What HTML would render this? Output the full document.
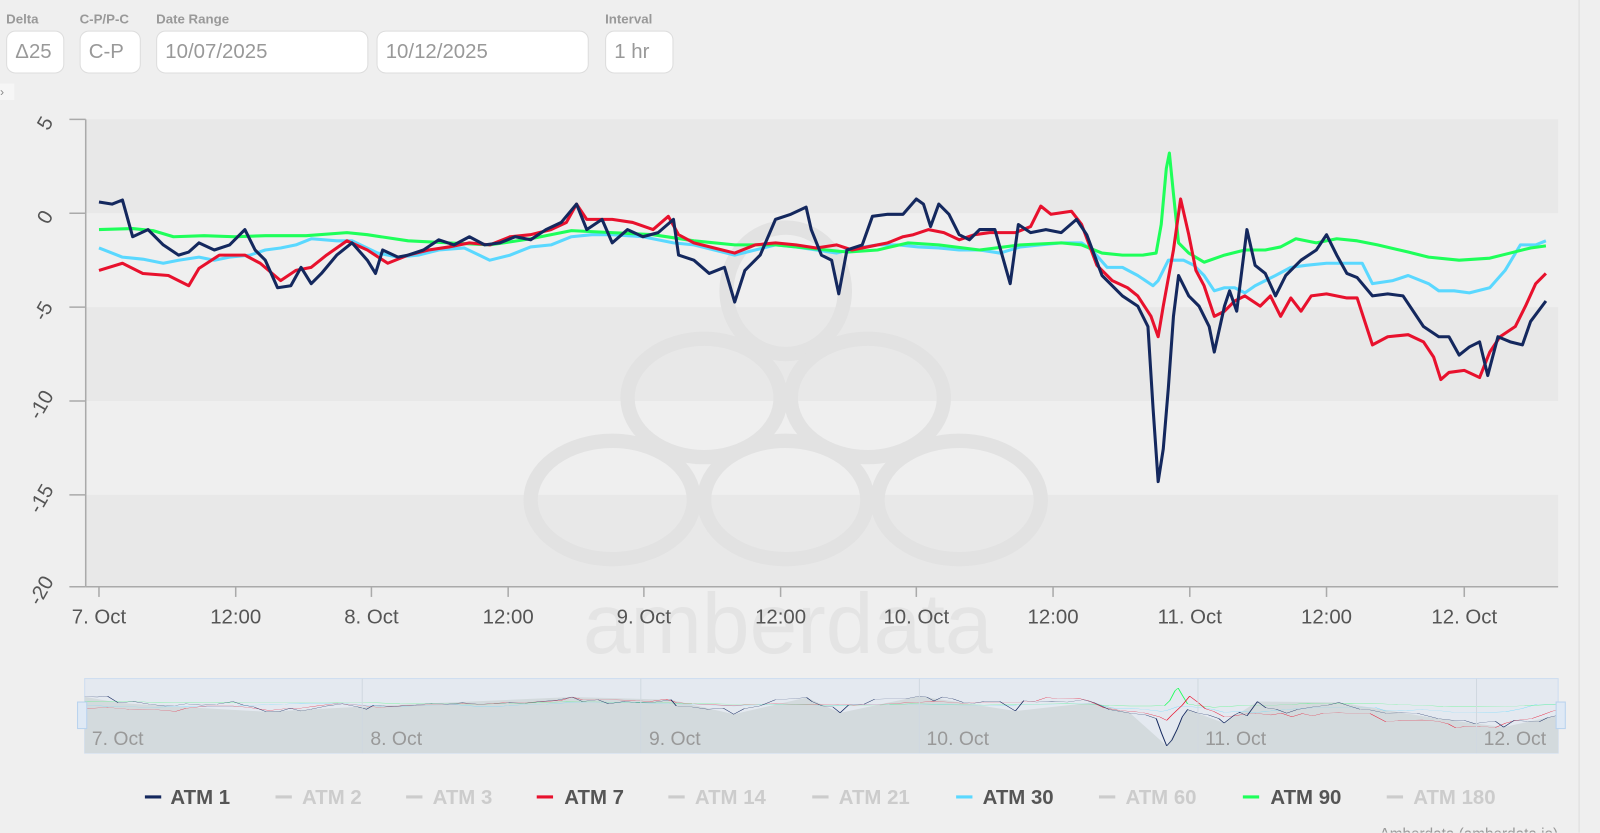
<!DOCTYPE html>
<html><head><meta charset="utf-8"><style>
body{margin:0;width:1600px;height:833px;background:#efefef;font-family:"Liberation Sans",sans-serif;overflow:hidden;position:relative}
#wrap{position:absolute;left:0;top:0;width:1568px;height:816px;transform:scale(1.0204);transform-origin:0 0}
.lbl{position:absolute;top:11px;font-size:13px;font-weight:bold;color:#999}
.box{position:absolute;top:30px;height:42px;border:1.5px solid #ddd;border-radius:9px;background:#fff;box-sizing:border-box;color:#999;font-size:20px;line-height:40px;padding-left:8px}
.nav polyline{vector-effect:non-scaling-stroke;stroke-width:1.5px}
</style></head><body><div id="wrap">
<div class="lbl" style="left:6px">Delta</div>
<div class="lbl" style="left:78px">C-P/P-C</div>
<div class="lbl" style="left:153px">Date Range</div>
<div class="lbl" style="left:593px">Interval</div>
<div class="box" style="left:6px;width:57px">Δ25</div>
<div class="box" style="left:78px;width:60px">C-P</div>
<div class="box" style="left:153px;width:208px">10/07/2025</div>
<div class="box" style="left:369px;width:208px">10/12/2025</div>
<div class="box" style="left:593px;width:67px">1 hr</div>
<div style="position:absolute;left:0;top:82px;width:14px;height:16px;background:#f6f6f6;color:#888;font-size:12px;line-height:16px">›</div>
<div style="position:absolute;left:1547px;top:0;width:1px;height:816px;background:#ddd"></div>
<svg width="1568" height="816" style="position:absolute;left:0;top:0">
<g>
<rect x="84" y="117" width="1443" height="92" fill="#e8e8e8"/>
<rect x="84" y="209" width="1443" height="92" fill="#efefef"/>
<rect x="84" y="301" width="1443" height="92" fill="#e8e8e8"/>
<rect x="84" y="393" width="1443" height="92" fill="#efefef"/>
<rect x="84" y="485" width="1443" height="90" fill="#e8e8e8"/>
</g>
<g fill="none" stroke="#e2e2e2" stroke-width="14">
<ellipse cx="770" cy="285" rx="58" ry="62"/>
<ellipse cx="690" cy="390" rx="75" ry="58"/><ellipse cx="850" cy="390" rx="75" ry="58"/>
<ellipse cx="600" cy="490" rx="80" ry="58"/><ellipse cx="770" cy="490" rx="80" ry="58"/><ellipse cx="940" cy="490" rx="80" ry="58"/>
</g>
<text x="772" y="640" font-size="84" text-anchor="middle" fill="#e4e4e4" font-family="Liberation Sans">amberdata</text>
<g stroke="#aaa" stroke-width="1.5">
<line x1="84" y1="117" x2="84" y2="575"/><line x1="84" y1="575" x2="1527" y2="575"/>
<line x1="68" y1="117" x2="84" y2="117"/><line x1="68" y1="209" x2="84" y2="209"/><line x1="68" y1="301" x2="84" y2="301"/><line x1="68" y1="393" x2="84" y2="393"/><line x1="68" y1="485" x2="84" y2="485"/><line x1="68" y1="575" x2="84" y2="575"/>
<line x1="97" y1="575" x2="97" y2="585"/><line x1="231" y1="575" x2="231" y2="585"/><line x1="364" y1="575" x2="364" y2="585"/><line x1="498" y1="575" x2="498" y2="585"/><line x1="631" y1="575" x2="631" y2="585"/><line x1="765" y1="575" x2="765" y2="585"/><line x1="898" y1="575" x2="898" y2="585"/><line x1="1032" y1="575" x2="1032" y2="585"/><line x1="1166" y1="575" x2="1166" y2="585"/><line x1="1300" y1="575" x2="1300" y2="585"/><line x1="1435" y1="575" x2="1435" y2="585"/>
</g>
<g font-size="20" fill="#555" text-anchor="middle">
<text transform="translate(50,124) rotate(-60)">5</text>
<text transform="translate(50,216) rotate(-60)">0</text>
<text transform="translate(48,308) rotate(-60)">-5</text>
<text transform="translate(46,400) rotate(-60)">-10</text>
<text transform="translate(46,492) rotate(-60)">-15</text>
<text transform="translate(46,582) rotate(-60)">-20</text>
</g>
<g font-size="20" fill="#555" text-anchor="middle">
<text x="97" y="611">7. Oct</text><text x="231" y="611">12:00</text><text x="364" y="611">8. Oct</text><text x="498" y="611">12:00</text><text x="631" y="611">9. Oct</text><text x="765" y="611">12:00</text><text x="898" y="611">10. Oct</text><text x="1032" y="611">12:00</text><text x="1166" y="611">11. Oct</text><text x="1300" y="611">12:00</text><text x="1435" y="611">12. Oct</text>
</g>
<defs>
<clipPath id="nc"><rect x="83" y="665" width="1444" height="73"/></clipPath>
<g id="s30"><polyline fill="none" stroke="#5ad8ff" points="97,243 120,252 140,254 160,258 175,255 195,252 210,255 225,252 245,250 260,245 275,243 290,240 305,234 330,236 345,236 370,248 390,252 410,250 430,245 455,243 480,255 500,250 520,242 540,240 560,232 580,230 600,230 630,232 660,238 680,240 700,245 720,250 740,245 760,240 780,242 800,245 820,248 840,243 860,240 880,240 900,242 920,243 940,245 960,245 980,248 1000,242 1020,240 1040,238 1060,238 1070,245 1085,262 1100,262 1115,270 1130,280 1135,275 1145,255 1160,255 1170,260 1180,270 1190,285 1200,282 1210,282 1220,287 1230,280 1250,270 1265,262 1280,260 1300,258 1320,258 1335,258 1345,278 1365,275 1380,270 1400,278 1410,285 1425,285 1440,287 1460,282 1475,265 1490,240 1505,240 1515,236"/></g>
<g id="s90"><polyline fill="none" stroke="#1eff5a" points="97,225 130,224 150,226 170,232 200,231 230,232 260,231 300,231 340,228 360,230 400,236 440,238 480,240 520,234 560,226 600,228 640,230 680,236 720,240 760,240 800,244 830,247 860,245 890,238 920,240 960,245 1000,240 1040,238 1060,240 1080,248 1100,250 1120,250 1133,248 1138,220 1143,165 1146,150 1150,190 1155,238 1165,248 1180,257 1200,250 1220,245 1240,245 1255,242 1270,234 1290,238 1310,234 1330,236 1350,240 1380,247 1400,252 1430,255 1460,253 1480,248 1500,243 1515,241"/></g>
<g id="s7"><polyline fill="none" stroke="#e8112d" points="97,265 120,258 140,268 165,270 185,280 195,263 215,250 240,250 255,258 275,275 290,265 305,262 320,250 340,236 360,245 380,258 400,250 420,245 440,242 460,238 480,240 500,232 520,230 540,225 555,218 565,200 575,215 600,215 620,218 640,225 655,212 665,230 680,238 700,243 720,248 740,240 760,238 780,240 800,243 820,240 835,245 850,242 870,238 885,232 895,230 910,225 925,228 940,235 955,230 970,228 995,228 1010,222 1020,202 1030,210 1050,207 1060,220 1075,260 1090,275 1105,282 1115,290 1128,310 1135,330 1140,300 1150,245 1157,195 1165,230 1172,265 1180,280 1190,310 1200,305 1210,295 1220,290 1235,300 1245,290 1255,310 1265,292 1275,305 1285,290 1300,288 1320,292 1330,292 1345,338 1360,330 1380,328 1395,335 1405,350 1412,372 1420,365 1435,363 1450,370 1460,345 1470,330 1485,320 1495,300 1505,278 1515,268"/></g>
<g id="s1"><polyline fill="none" stroke="#14285e" points="97,198 110,200 120,196 130,232 145,225 160,240 175,250 185,247 195,238 210,245 225,240 240,225 250,245 260,255 272,282 285,280 295,262 305,278 315,268 330,250 345,238 360,255 368,268 375,245 390,252 400,250 415,245 430,235 445,240 460,232 475,240 490,238 505,232 520,235 535,225 550,218 565,200 575,225 590,215 600,238 615,225 630,232 645,228 660,215 665,250 680,255 695,268 710,262 720,296 730,265 745,250 760,215 775,210 790,203 795,225 805,250 815,255 822,288 830,245 845,240 855,212 870,210 885,210 898,195 905,200 912,222 920,200 930,210 940,230 950,235 960,225 975,225 990,278 998,220 1010,228 1025,225 1040,228 1055,215 1065,230 1080,270 1100,290 1115,300 1125,320 1130,400 1135,472 1140,440 1145,380 1150,310 1155,270 1165,290 1175,300 1185,320 1190,345 1200,300 1205,285 1212,305 1222,225 1230,260 1240,268 1250,290 1260,270 1275,255 1290,245 1300,230 1310,250 1320,268 1330,272 1345,290 1360,288 1375,290 1395,320 1410,330 1420,330 1430,348 1440,340 1450,335 1458,368 1468,330 1480,335 1492,338 1500,315 1515,295"/></g>
</defs>
<g stroke-width="3" stroke-linejoin="round">
<use href="#s30"/><use href="#s90"/><use href="#s7"/><use href="#s1"/>
</g>
<rect x="83" y="665" width="1444" height="73" fill="#e4e9f0" stroke="#cdddf0"/>
<g clip-path="url(#nc)">
<g class="nav" transform="translate(82,691) scale(1.0225,0.176) translate(-97,-245)">
<polygon fill="#d3dadd" points="97,198 130,232 175,250 272,282 360,255 430,235 565,200 660,215 720,296 790,203 822,288 898,195 990,278 1065,230 1100,290 1135,472 1155,270 1190,345 1222,225 1300,230 1395,320 1458,368 1515,295 1515,600 97,600"/>
<use href="#s30"/><use href="#s90"/><use href="#s7"/><use href="#s1"/>
</g>
</g>
<g stroke="#d0d8e0"><line x1="355" y1="665" x2="355" y2="738"/><line x1="628" y1="665" x2="628" y2="738"/><line x1="901" y1="665" x2="901" y2="738"/><line x1="1174" y1="665" x2="1174" y2="738"/><line x1="1447" y1="665" x2="1447" y2="738"/></g>
<rect x="76" y="688" width="9" height="26" fill="#dfe9f5" stroke="#b8d2ee"/>
<rect x="1525" y="688" width="9" height="26" fill="#dfe9f5" stroke="#b8d2ee"/>
<g font-size="19" fill="#999"><text x="90" y="730">7. Oct</text><text x="363" y="730">8. Oct</text><text x="636" y="730">9. Oct</text><text x="908" y="730">10. Oct</text><text x="1181" y="730">11. Oct</text><text x="1454" y="730">12. Oct</text></g>
<g font-size="20" font-weight="bold">
<line x1="142" y1="781" x2="158" y2="781" stroke="#14285e" stroke-width="3"/><text x="167" y="788" fill="#555">ATM 1</text>
<line x1="270" y1="781" x2="286" y2="781" stroke="#ccc" stroke-width="3"/><text x="296" y="788" fill="#ccc">ATM 2</text>
<line x1="398" y1="781" x2="414" y2="781" stroke="#ccc" stroke-width="3"/><text x="424" y="788" fill="#ccc">ATM 3</text>
<line x1="526" y1="781" x2="542" y2="781" stroke="#e8112d" stroke-width="3"/><text x="553" y="788" fill="#555">ATM 7</text>
<line x1="655" y1="781" x2="671" y2="781" stroke="#ccc" stroke-width="3"/><text x="681" y="788" fill="#ccc">ATM 14</text>
<line x1="796" y1="781" x2="812" y2="781" stroke="#ccc" stroke-width="3"/><text x="822" y="788" fill="#ccc">ATM 21</text>
<line x1="937" y1="781" x2="953" y2="781" stroke="#5ad8ff" stroke-width="3"/><text x="963" y="788" fill="#555">ATM 30</text>
<line x1="1077" y1="781" x2="1093" y2="781" stroke="#ccc" stroke-width="3"/><text x="1103" y="788" fill="#ccc">ATM 60</text>
<line x1="1218" y1="781" x2="1234" y2="781" stroke="#1eff5a" stroke-width="3"/><text x="1245" y="788" fill="#555">ATM 90</text>
<line x1="1359" y1="781" x2="1375" y2="781" stroke="#ccc" stroke-width="3"/><text x="1385" y="788" fill="#ccc">ATM 180</text>
</g>
<text x="1527" y="822" font-size="15" fill="#999" text-anchor="end">Amberdata  (amberdata.io)</text>
</svg>
</div></body></html>
